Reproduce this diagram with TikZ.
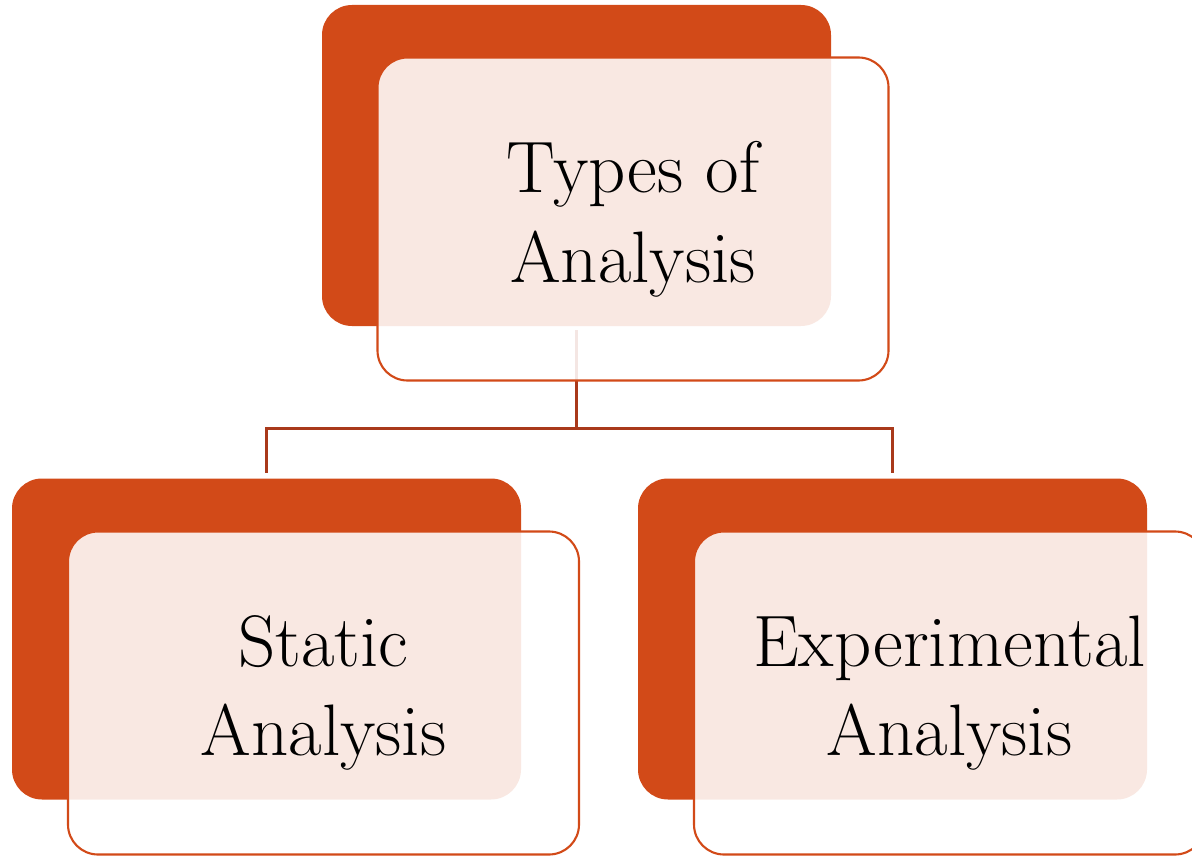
\documentclass[tikz,border=0pt]{standalone}
\usetikzlibrary{backgrounds}

\definecolor{rust}{HTML}{D24A18}
\definecolor{darkrust}{HTML}{A9391B}

\tikzset{
    backbox/.style={fill=rust, draw=none, rounded corners=0.6cm,
        minimum width=10.18cm, minimum height=6.42cm},
    frontbox/.style={fill=white, fill opacity=0.88, text opacity=1,
        draw=rust, line width=1.2pt, rounded corners=0.6cm,
        minimum width=10.22cm, minimum height=6.46cm, align=center,
        font=\fontsize{41.5}{51}\selectfont},
    link/.style={draw=darkrust, line width=1.7pt}
}

\begin{document}
\begin{tikzpicture}

    \useasboundingbox (0,0) rectangle (23.84,-17.12);

    % Top box
    \node[backbox] (types) at (11.53,-3.31) {};
    \node[frontbox] (typestext) at (12.66,-4.38) {Types of\\Analysis};

    % Lower boxes
    \node[backbox] (static) at (5.33,-12.78) {};
    \node[frontbox] (statictext) at (6.47,-13.86) {Static\\Analysis};

    \node[backbox] (exper) at (17.85,-12.78) {};
    \node[frontbox] (expertext) at (18.99,-13.86) {Experimental\\Analysis};

    % Tree lines, kept behind the boxes
    \begin{scope}[on background layer]
        \draw[link, shorten <=2pt] (types.south) -- ++(0,-2.04) coordinate (fork);
        \draw[link, shorten >=3pt] (fork) -| (static.north);
        \draw[link, shorten >=3pt] (fork) -| (exper.north);
    \end{scope}

\end{tikzpicture}
\end{document}
